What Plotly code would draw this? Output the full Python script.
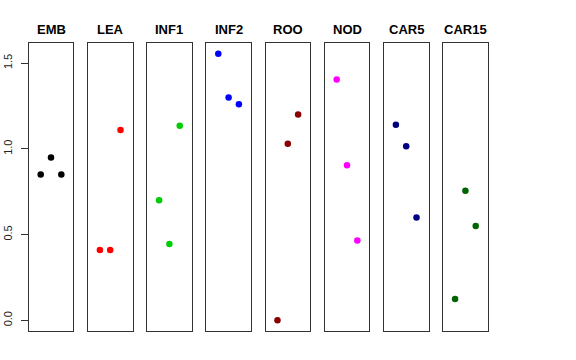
import plotly.graph_objects as go

panels = ["EMB", "LEA", "INF1", "INF2", "ROO", "NOD", "CAR5", "CAR15"]
colors = ["#000000", "#FF0000", "#00CD00", "#0000FF", "#8B0000", "#FF00FF", "#000080", "#006400"]
x_pos = [1, 2, 3]
values = {
    "EMB": [0.85, 0.95, 0.85],
    "LEA": [0.41, 0.41, 1.11],
    "INF1": [0.70, 0.445, 1.135],
    "INF2": [1.555, 1.30, 1.26],
    "ROO": [0.0, 1.03, 1.20],
    "NOD": [1.405, 0.905, 0.465],
    "CAR5": [1.14, 1.015, 0.60],
    "CAR15": [0.125, 0.755, 0.55],
}
y_ticks = [0.0, 0.5, 1.0, 1.5]
y_tick_labels = ["0.0", "0.5", "1.0", "1.5"]

W, H = 576, 360
left0, pitch, pw = 28.7, 59.2, 44.6
top_px, bot_px = 43, 331
y0 = (H - bot_px) / H
y1 = (H - top_px) / H
y_range = [-0.0622, 1.6172]
x_range = [-0.16, 4.16]

fig = go.Figure()
annotations = []
for i, name in enumerate(panels):
    suffix = "" if i == 0 else str(i + 1)
    fig.add_trace(go.Scatter(
        x=x_pos, y=values[name], mode="markers",
        marker=dict(color=colors[i], size=6.5, line=dict(width=0)),
        xaxis="x" + suffix, yaxis="y" + suffix, showlegend=False,
        hoverinfo="skip",
    ))
    xl = left0 + i * pitch
    xd = [xl / W, (xl + pw) / W]
    fig.layout["xaxis" + suffix] = dict(
        domain=xd, range=x_range, anchor="y" + suffix, automargin=False,
        showline=True, mirror=True, linecolor="#333333", linewidth=1,
        showgrid=False, zeroline=False, showticklabels=False, ticks="",
        fixedrange=True,
    )
    ycfg = dict(
        domain=[y0, y1], range=y_range, anchor="x" + suffix, automargin=False,
        showline=True, mirror=True, linecolor="#333333", linewidth=1,
        showgrid=False, zeroline=False, fixedrange=True,
    )
    if i == 0:
        ycfg.update(ticks="outside", ticklen=7, tickwidth=1, tickcolor="#333333",
                    tickvals=y_ticks, ticktext=y_tick_labels, tickangle=-90,
                    ticklabelstandoff=4,
                    tickfont=dict(family="Liberation Sans, Arial, sans-serif", size=11, color="#222222"))
    else:
        ycfg.update(showticklabels=False, ticks="")
    fig.layout["yaxis" + suffix] = ycfg
    annotations.append(dict(
        text="<b>%s</b>" % name, x=(xl + pw / 2) / W, y=(H - 29.5) / H,
        xref="paper", yref="paper", xanchor="center", yanchor="middle",
        showarrow=False, font=dict(family="Liberation Sans, Arial, sans-serif", size=13, color="#000000"),
    ))

fig.update_layout(
    width=W, height=H, margin=dict(l=0, r=0, t=0, b=0, autoexpand=False),
    paper_bgcolor="white", plot_bgcolor="white",
    annotations=annotations,
)
fig.write_html("out.html", config={"displayModeBar": False},
               post_script="document.body.style.margin='0px';")
